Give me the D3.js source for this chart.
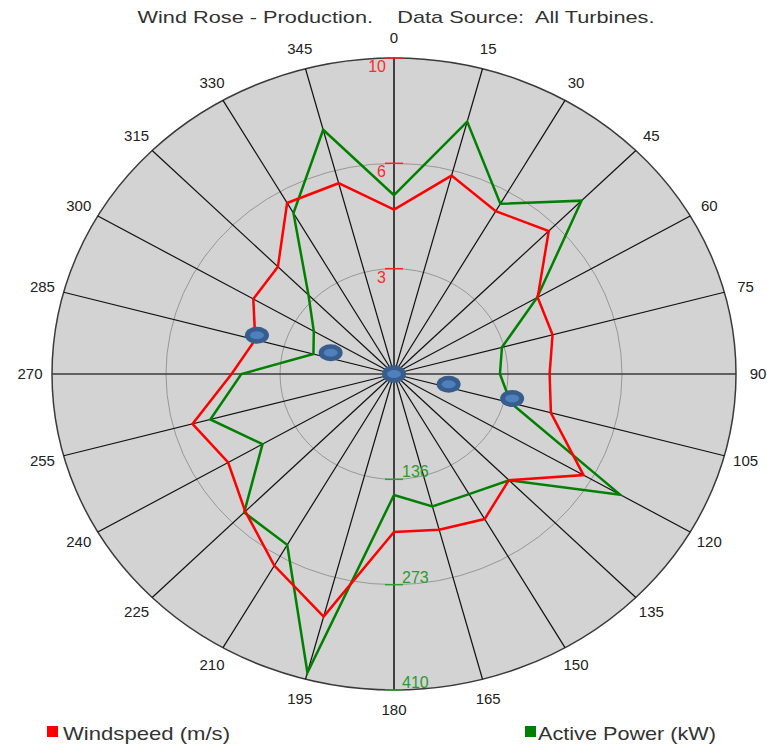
<!DOCTYPE html>
<html>
<head>
<meta charset="utf-8">
<script src="https://cdn.jsdelivr.net/npm/d3@7"></script>
<style>
  body { margin: 0; background: #fff; }
  text { font-family: "Liberation Sans", Arial, sans-serif; }
</style>
</head>
<body>
<div id="rose"></div>
<script>
// wind rose: windspeed (red) and active power (green) by direction
const directions = [0, 15, 30, 45, 60, 75, 90, 105, 120, 135, 150, 165,
  180, 195, 210, 225, 240, 255, 270, 285, 300, 315, 330, 345];
const windspeed = [5.2, 6.5, 5.95, 6.4, 4.85, 4.8, 4.55, 4.75, 6.4, 4.75, 5.3, 5.1,
  5.0, 7.95, 7.0, 6.15, 5.6, 6.1, 4.75, 4.2, 4.75, 4.8, 6.25, 6.25];
const power = [232, 339, 255, 318, 198, 134, 127, 145, 313, 195, 180, 178,
  157, 401, 256, 254, 182, 228, 183, 100, 111, 145, 241, 328];
const speedTicks = ["3", "6", "10"];
const powerTicks = ["136", "273", "410"];
// blue markers (direction, windspeed units)
const markerDirs = [0, 287, 290, 101.5, 102.6];
const markerVals = [0, 4.19, 1.97, 1.63, 3.54];

const width = 767,
    height = 747,
    cx = 394,
    cy = 374,
    rx = 342,
    ry = 316;

const rSpeed = d3.scaleLinear().domain([0, 10]).range([0, 1]);
const rPower = d3.scaleLinear().domain([0, 410]).range([0, 1]);
const rad = d => d * Math.PI / 180;
const px = (a, f) => cx + rx * f * Math.sin(rad(a));
const py = (a, f) => cy - ry * f * Math.cos(rad(a));

let svg = d3.select("#rose")
    .append("svg")
    .attr("width", width)
    .attr("height", height);

svg.append("text")
    .attr("x", 396).attr("y", 23)
    .attr("text-anchor", "middle")
    .attr("font-size", 17)
    .attr("fill", "#333")
    .style("white-space", "pre")
    .attr("textLength", 517).attr("lengthAdjust", "spacingAndGlyphs")
    .text("Wind Rose - Production.    Data Source:  All Turbines.");

svg.append("ellipse")
    .attr("cx", cx).attr("cy", cy).attr("rx", rx).attr("ry", ry)
    .attr("fill", "#d3d3d3")
    .attr("stroke", "#3a3a3a")
    .attr("stroke-width", 1.5);

// inner rings
[1 / 3, 2 / 3].forEach(f => {
    svg.append("ellipse")
        .attr("cx", cx).attr("cy", cy).attr("rx", rx * f).attr("ry", ry * f)
        .attr("fill", "none")
        .attr("stroke", "#979797")
        .attr("stroke-width", 1);
});

// spokes
svg.selectAll(".spoke")
    .data(directions)
    .enter()
    .append("line")
    .attr("class", "spoke")
    .attr("x1", cx).attr("y1", cy)
    .attr("x2", d => px(d, 1))
    .attr("y2", d => py(d, 1))
    .attr("stroke", d => d == 90 || d == 270 ? "#3a3a3a" : "#111")
    .attr("stroke-width", d => d % 90 == 0 ? 1.5 : 1.2);

// direction labels
svg.selectAll(".dirlab")
    .data(directions)
    .enter()
    .append("text")
    .attr("x", d => cx + (rx + 22) * Math.sin(rad(d)))
    .attr("y", d => cy - (ry + 20) * Math.cos(rad(d)) + 5)
    .attr("text-anchor", "middle")
    .attr("font-size", 15)
    .attr("fill", "#222")
    .text(d => d);

// ring ticks and labels
speedTicks.forEach((t, i) => {
    let f = (i + 1) / 3;
    svg.append("line")
        .attr("x1", cx - 9).attr("x2", cx + 9)
        .attr("y1", cy - ry * f).attr("y2", cy - ry * f)
        .attr("stroke", "#ff2020").attr("stroke-width", 1.5);
    svg.append("text")
        .attr("x", cx - 8).attr("y", cy - ry * f + 14)
        .attr("text-anchor", "end")
        .attr("font-size", 16)
        .attr("fill", "#ff2a2a")
        .text(t);
});
powerTicks.forEach((t, i) => {
    let f = (i + 1) / 3;
    svg.append("line")
        .attr("x1", cx - 9).attr("x2", cx + 9)
        .attr("y1", cy + ry * f).attr("y2", cy + ry * f)
        .attr("stroke", "#2ea02e").attr("stroke-width", 1.5);
    svg.append("text")
        .attr("x", cx + 8).attr("y", cy + ry * f - 2)
        .attr("font-size", 16)
        .attr("fill", "#2e9a2e")
        .text(t);
});

// series
let makeLine = scale => d3.line()
    .x((v, i) => px(directions[i], scale(v)))
    .y((v, i) => py(directions[i], scale(v)))
    .curve(d3.curveLinearClosed);

svg.append("path")
    .attr("d", makeLine(rPower)(power))
    .attr("fill", "none")
    .attr("stroke", "#008000")
    .attr("stroke-width", 2.5);

svg.append("path")
    .attr("d", makeLine(rSpeed)(windspeed))
    .attr("fill", "none")
    .attr("stroke", "#ff0000")
    .attr("stroke-width", 2.5);

// markers
let mk = svg.selectAll(".marker")
    .data(markerDirs)
    .enter()
    .append("g")
    .attr("transform", (d, i) => "translate(" + px(d, rSpeed(markerVals[i])) + "," + py(d, rSpeed(markerVals[i])) + ")");
mk.append("ellipse")
    .attr("rx", 12).attr("ry", (d, i) => i == 0 ? 9 : 8.5)
    .attr("fill", "#375d8c");
mk.append("ellipse")
    .attr("rx", 7).attr("ry", 4)
    .attr("fill", "#4f7fbd");

// legend
svg.append("rect").attr("x", 47).attr("y", 726).attr("width", 11).attr("height", 11).attr("fill", "#ff0000");
svg.append("text").attr("x", 63).attr("y", 740).attr("font-size", 19).attr("fill", "#333")
    .attr("textLength", 167).attr("lengthAdjust", "spacingAndGlyphs")
    .text("Windspeed (m/s)");
svg.append("rect").attr("x", 525).attr("y", 726).attr("width", 11).attr("height", 11).attr("fill", "#008000");
svg.append("text").attr("x", 538).attr("y", 740).attr("font-size", 19).attr("fill", "#333")
    .attr("textLength", 178).attr("lengthAdjust", "spacingAndGlyphs")
    .text("Active Power (kW)");
</script>
</body>
</html>
